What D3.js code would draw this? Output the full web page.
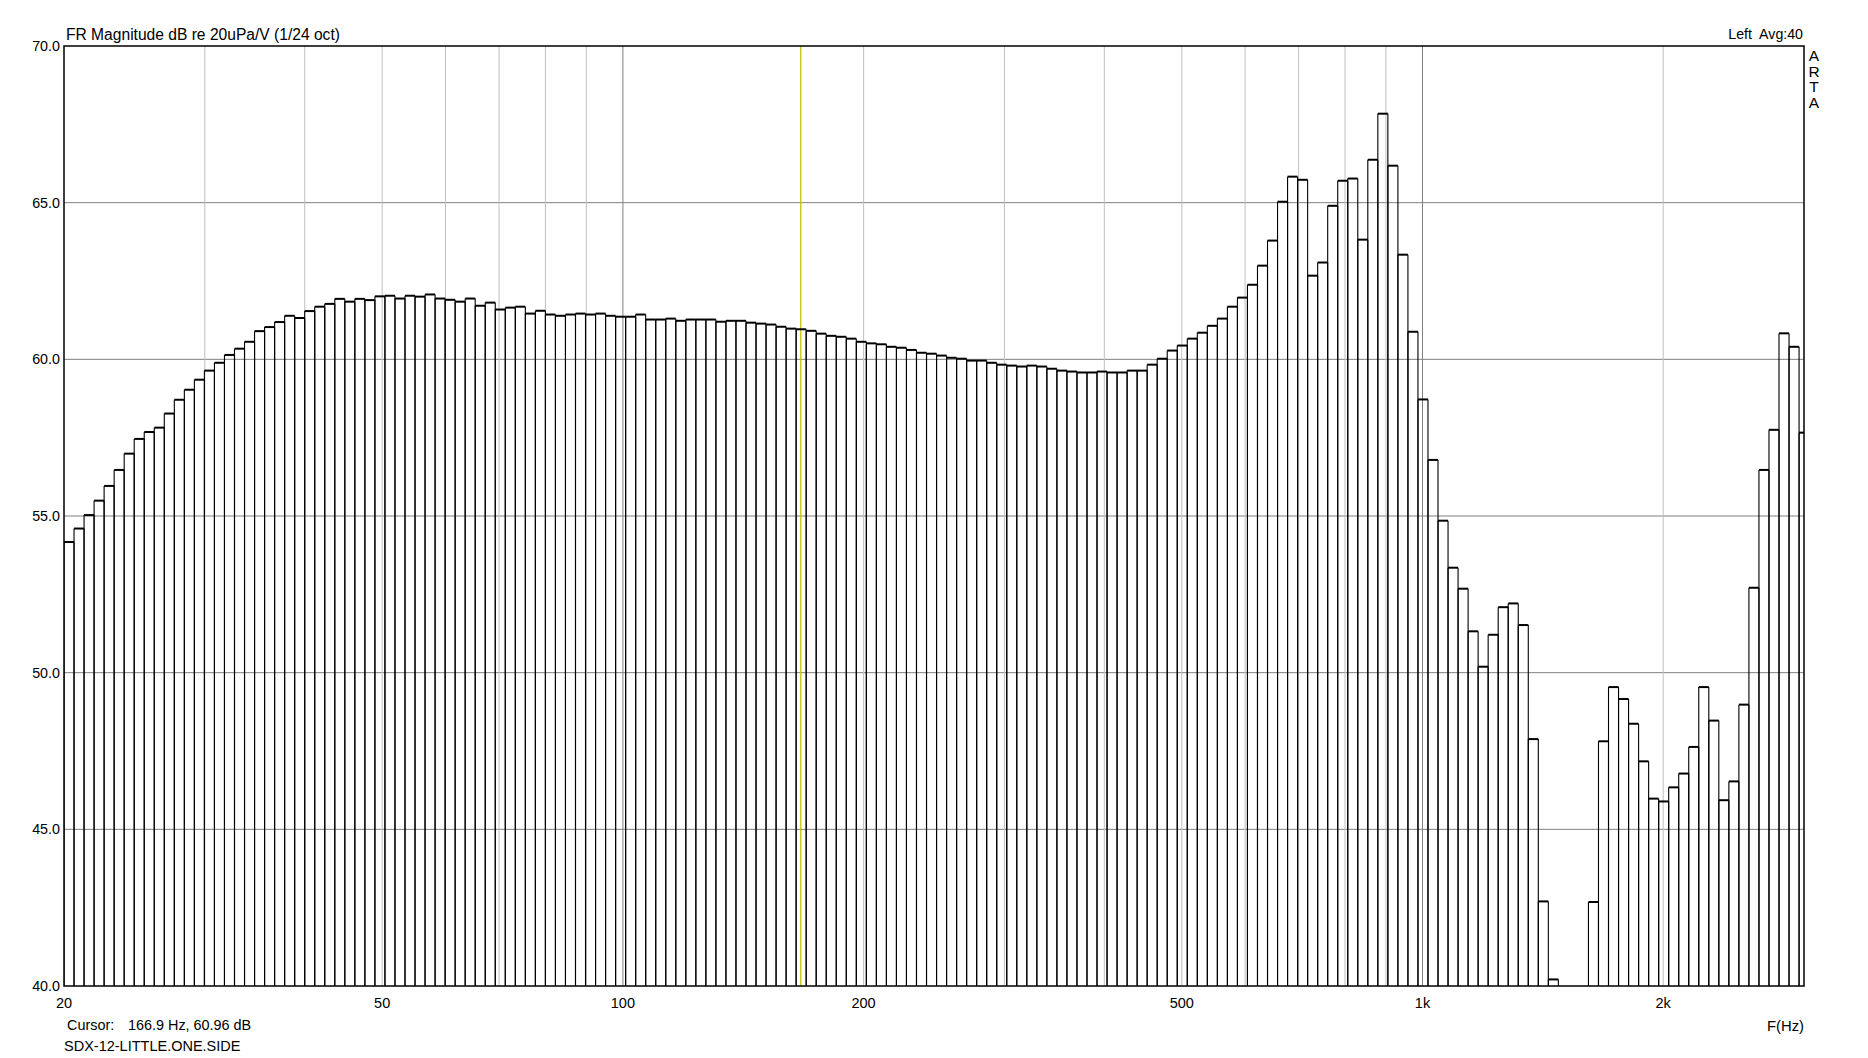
<!DOCTYPE html>
<html>
<head>
<meta charset="utf-8">
<script src="https://cdn.jsdelivr.net/npm/d3@7"></script>
<style>
	body { margin: 0; background: #fff; }
	text { font-family: "Liberation Sans", Arial, sans-serif; fill: #000; }
</style>
</head>
<body>
<div id="draw_area"></div>
<script>
// 1/24 octave bands starting at 20 Hz
var fStart = 20, fEnd = 3000, bandsPerOct = 24

// level of each band, dB re 20uPa/V
var levels = [
	54.17, 54.60, 55.03, 55.49, 55.96, 56.47, 56.99, 57.46, 57.68, 57.82,
	58.27, 58.71, 59.03, 59.35, 59.64, 59.89, 60.14, 60.34, 60.56, 60.90,
	61.03, 61.19, 61.39, 61.32, 61.54, 61.68, 61.77, 61.93, 61.84, 61.93,
	61.89, 62.01, 62.03, 61.94, 62.03, 62.00, 62.07, 61.94, 61.90, 61.84,
	61.94, 61.71, 61.81, 61.59, 61.65, 61.68, 61.46, 61.55, 61.43, 61.39,
	61.43, 61.46, 61.43, 61.46, 61.39, 61.36, 61.36, 61.43, 61.27, 61.27,
	61.30, 61.23, 61.27, 61.27, 61.27, 61.20, 61.23, 61.23, 61.17, 61.14,
	61.11, 61.04, 60.98, 60.96, 60.91, 60.82, 60.75, 60.72, 60.66, 60.56,
	60.51, 60.48, 60.40, 60.37, 60.30, 60.21, 60.18, 60.12, 60.05, 60.02,
	59.96, 59.96, 59.89, 59.83, 59.80, 59.77, 59.80, 59.77, 59.70, 59.64,
	59.61, 59.58, 59.58, 59.61, 59.58, 59.58, 59.64, 59.64, 59.83, 60.02,
	60.28, 60.44, 60.66, 60.85, 61.07, 61.30, 61.68, 61.97, 62.38, 62.99,
	63.79, 65.03, 65.83, 65.73, 62.67, 63.09, 64.90, 65.70, 65.77, 63.82,
	66.37, 67.84, 66.18, 63.34, 60.88, 58.72, 56.79, 54.85, 53.35, 52.68,
	51.32, 50.19, 51.21, 52.09, 52.21, 51.52, 47.88, 42.70, 40.21, 38.50,
	37.50, 38.50, 42.68, 47.81, 49.54, 49.16, 48.37, 47.17, 45.98, 45.89,
	46.34, 46.78, 47.63, 49.54, 48.47, 45.93, 46.53, 48.98, 52.71, 56.47,
	57.75, 60.83, 60.40, 57.66
]

var yTicks = [40, 45, 50, 55, 60, 65, 70]
var xLabels = [20, 50, 100, 200, 500, 1000, 2000]
var xGridMinor = [30, 40, 50, 60, 70, 80, 90, 200, 300, 400, 500, 600, 700, 800, 900, 2000]
var xGridMajor = [100, 1000]

var cursorFreq = 166.9
var titleText = 'FR Magnitude dB re 20uPa/V (1/24 oct)'
var channelText = 'Left  Avg:40'
var fileText = 'SDX-12-LITTLE.ONE.SIDE'

var W = 1868, H = 1058
// plot frame (don't use "top" as a global name, it is window.top)
var plotL = 64, plotR = 1804, plotT = 46, plotB = 986

var svg = d3.select('#draw_area').append('svg')
	.attr('width', W)
	.attr('height', H)

svg.append('rect').attr('width', W).attr('height', H).attr('fill', '#fff')

var x = d3.scaleLog().domain([fStart, fEnd]).range([plotL, plotR])
var y = d3.scaleLinear().domain([40, 70]).range([plotB, plotT])

svg.append('clipPath').attr('id', 'plotclip')
	.append('rect')
	.attr('x', plotL).attr('y', plotT)
	.attr('width', plotR - plotL).attr('height', plotB - plotT)

var plot = svg.append('g').attr('clip-path', 'url(#plotclip)')

// grid
plot.selectAll('line.hgrid').data(yTicks.slice(1, -1)).enter().append('line')
	.attr('class', 'hgrid')
	.attr('x1', plotL).attr('x2', plotR)
	.attr('y1', d => y(d)).attr('y2', d => y(d))
	.attr('stroke', '#808080').attr('stroke-width', 1)

plot.selectAll('line.vminor').data(xGridMinor).enter().append('line')
	.attr('class', 'vminor')
	.attr('x1', d => x(d)).attr('x2', d => x(d))
	.attr('y1', plotT).attr('y2', plotB)
	.attr('stroke', '#c0c0c0').attr('stroke-width', 1)

plot.selectAll('line.vmajor').data(xGridMajor).enter().append('line')
	.attr('class', 'vmajor')
	.attr('x1', d => x(d)).attr('x2', d => x(d))
	.attr('y1', plotT).attr('y2', plotB)
	.attr('stroke', '#808080').attr('stroke-width', 1)

// cursor
plot.append('line')
	.attr('x1', x(cursorFreq)).attr('x2', x(cursorFreq))
	.attr('y1', plotT).attr('y2', plotB)
	.attr('stroke', '#c4c400').attr('stroke-width', 1.3)

// bands
var bands = levels.map((v, i) => ({
	f0: fStart * Math.pow(2, i / bandsPerOct),
	f1: Math.min(fEnd * 1.01, fStart * Math.pow(2, (i + 1) / bandsPerOct)),
	v: v
}))

var g = plot.selectAll('g.band').data(bands).enter().append('g')
	.attr('class', 'band')

g.append('path')
	.attr('d', d => `M${x(d.f0)},${y(40)}V${y(d.v)}M${x(d.f1)},${y(d.v)}V${y(40)}`)
	.attr('fill', 'none')
	.attr('stroke', '#000')
	.attr('stroke-width', 1.1)

g.append('line')
	.attr('x1', d => x(d.f0)).attr('x2', d => x(d.f1))
	.attr('y1', d => y(d.v)).attr('y2', d => y(d.v))
	.attr('stroke', '#000')
	.attr('stroke-width', 2)

// frame
svg.append('rect')
	.attr('x', plotL).attr('y', plotT)
	.attr('width', plotR - plotL).attr('height', plotB - plotT)
	.attr('fill', 'none').attr('stroke', '#000').attr('stroke-width', 1.5)

// y labels
svg.selectAll('text.ylab').data(yTicks).enter().append('text')
	.attr('class', 'ylab')
	.attr('x', 60).attr('y', d => y(d) + 5)
	.attr('text-anchor', 'end')
	.style('font-size', '14.3px')
	.text(d => d.toFixed(1))

// x labels
svg.selectAll('text.xlab').data(xLabels).enter().append('text')
	.attr('class', 'xlab')
	.attr('x', d => x(d)).attr('y', 1008)
	.attr('text-anchor', 'middle')
	.style('font-size', '14.5px')
	.text(d => d >= 1000 ? (d / 1000) + 'k' : d)

svg.append('text')
	.attr('x', 1804).attr('y', 1031)
	.attr('text-anchor', 'end')
	.style('font-size', '14.8px')
	.text('F(Hz)')

// titles
svg.append('text')
	.attr('x', 66).attr('y', 40)
	.style('font-size', '15.6px')
	.text(titleText)

svg.append('text')
	.attr('x', 1803).attr('y', 39)
	.attr('text-anchor', 'end')
	.style('font-size', '14.2px')
	.style('white-space', 'pre')
	.text(channelText)

svg.selectAll('text.arta').data(['A', 'R', 'T', 'A']).enter().append('text')
	.attr('class', 'arta')
	.attr('x', 1814).attr('y', (d, i) => 61 + i * 15.7)
	.attr('text-anchor', 'middle')
	.style('font-size', '15.5px')
	.text(d => d)

// cursor readout
var ci = Math.floor(Math.log2(cursorFreq / fStart) * bandsPerOct)
svg.append('text')
	.attr('x', 67).attr('y', 1030)
	.style('font-size', '14.4px')
	.text('Cursor:')
svg.append('text')
	.attr('x', 128).attr('y', 1030)
	.style('font-size', '14.4px')
	.text(`${cursorFreq.toFixed(1)} Hz, ${levels[ci].toFixed(2)} dB`)

svg.append('text')
	.attr('x', 64).attr('y', 1051)
	.style('font-size', '14.5px')
	.text(fileText)
</script>
</body>
</html>
